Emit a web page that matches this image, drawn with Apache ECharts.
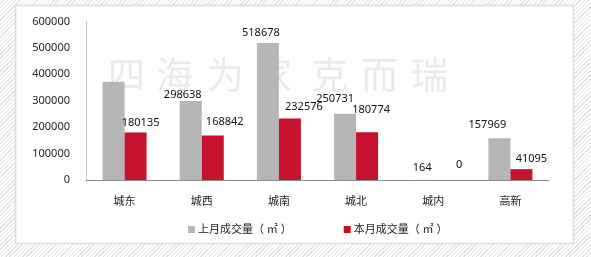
<!DOCTYPE html>
<html><head><meta charset="utf-8">
<script src="https://cdn.jsdelivr.net/npm/echarts@6/dist/echarts.min.js"></script>
<style>
html,body{margin:0;padding:0;}
body{width:591px;height:257px;background:repeating-linear-gradient(135deg,#ffffff 0px,#ffffff 2px,#e3e3e3 2px,#e3e3e3 3px);}
#c{width:591px;height:257px;}
</style></head>
<body><div id="c"></div>
<script>
const categories = ['城东','城西','城南','城北','城内','高新'];
const lastMonth = [372000, 298638, 518678, 250731, 164, 157969];
const thisMonth = [180135, 168842, 232576, 180774, 0, 41095];
const yTicks = [0, 100000, 200000, 300000, 400000, 500000, 600000];
const seriesNames = ['上月成交量（ ㎡ ）', '本月成交量（ ㎡ ）'];
const watermarkChars = ['四','海','为','家','克','而','瑞'];

// label placement tweaks (dx, dy) per bar, and which labels are hidden
const grayOffsets = [null, [-8, 4], [-7, 0], [-10, -4], [0, -2], [-12, -3]];
const redOffsets = [[5, 1], [12, -3], [14, -1], [4, -12], [15, -5], [10, 0]];
const watermarkLefts = [108, 156, 207, 255, 311, 361, 411];

const font = '"Noto Sans", "Noto Sans CJK SC", sans-serif';
function buildData(vals, offs) {
  return vals.map((v, i) => {
    const o = offs[i];
    if (!o) return { value: v, label: { show: false } };
    return { value: v, label: { offset: o } };
  });
}
const wmGraphics = watermarkChars.map((ch, i) => ({
  type: 'text', z: 100, silent: true, left: watermarkLefts[i], top: 56,
  style: { text: ch, font: '37px "Noto Sans CJK SC"', fill: 'rgba(180,180,180,0.28)' }
}));
const chart = echarts.init(document.getElementById('c'), null, { renderer: 'canvas' });
chart.setOption({
  animation: false,
  textStyle: { fontFamily: font },
  graphic: [
    { type: 'rect', z: -10, silent: true, shape: { x: 15.5, y: 5.5, width: 558, height: 238 },
      style: { fill: '#ffffff', stroke: '#dcdcdc', lineWidth: 1.5 } }
  ].concat(wmGraphics),
  grid: { left: 86, right: 42, top: 21.5, bottom: 77 },
  legend: {
    left: 183, top: 219, itemWidth: 7, itemHeight: 7, itemGap: 52,
    icon: 'rect',
    textStyle: { fontSize: 11, color: '#222', padding: [0, 0, 0, -2] },
    data: seriesNames
  },
  xAxis: {
    type: 'category', data: categories,
    axisLine: { lineStyle: { color: '#8c8c8c', width: 1 } },
    axisTick: { show: false },
    axisLabel: { color: '#222', fontSize: 11, margin: 16 }
  },
  yAxis: {
    type: 'value', min: yTicks[0], max: yTicks[yTicks.length - 1], interval: yTicks[1] - yTicks[0],
    axisLine: { show: true, lineStyle: { color: '#c8c8c8' } },
    axisTick: { show: false },
    splitLine: { show: false },
    axisLabel: { color: '#222', fontSize: 11, margin: 16, formatter: v => String(v) }
  },
  series: [
    { name: seriesNames[0], type: 'bar', barWidth: 22, barGap: '0%',
      itemStyle: { color: '#b6b6b6' },
      label: { show: true, position: 'top', distance: 5, color: '#111', fontSize: 11 },
      data: buildData(lastMonth, grayOffsets) },
    { name: seriesNames[1], type: 'bar', barWidth: 22, barGap: '0%',
      itemStyle: { color: '#c5122d' },
      label: { show: true, position: 'top', distance: 5, color: '#111', fontSize: 11 },
      data: buildData(thisMonth, redOffsets) }
  ]
});
</script></body></html>
